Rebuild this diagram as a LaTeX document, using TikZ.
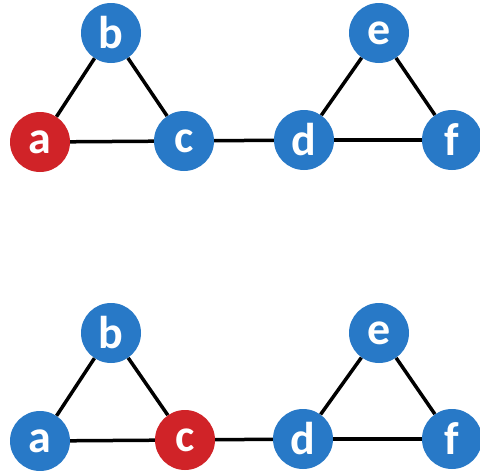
\documentclass[tikz,border=0pt]{standalone}
\usepackage{fontspec}
\setmainfont{Carlito}
\definecolor{nodeblue}{RGB}{40,121,199}
\definecolor{nodered}{RGB}{208,35,40}
\tikzset{
  vert/.style={circle, minimum size=60pt, inner sep=0pt, fill=nodeblue,
    text=white, font=\fontsize{46}{46}\selectfont\bfseries},
  hot/.style={vert, fill=nodered},
  edge/.style={line width=3.5pt, black}
}
\begin{document}
\begin{tikzpicture}[x=1pt, y=-1pt]
\useasboundingbox (0,0) rectangle (480,471);
% upper graph
\node[vert] (b1) at (111,33) {b};
\node[hot]  (a1) at (40,142) {a};
\node[vert] (c1) at (184,141) {c};
\node[vert] (d1) at (304,140) {d};
\node[vert] (e1) at (379,33) {e};
\node[vert] (f1) at (452,140) {f};
% lower graph
\node[vert] (b2) at (111,333) {b};
\node[vert] (a2) at (40,441) {a};
\node[hot]  (c2) at (185,440) {c};
\node[vert] (d2) at (303,439) {d};
\node[vert] (e2) at (379,333) {e};
\node[vert] (f2) at (452,439) {f};
% edges of both graphs
\foreach \i in {1,2}{
  \draw[edge] (a\i) -- (b\i);
  \draw[edge] (b\i) -- (c\i);
  \draw[edge] (a\i) -- (c\i);
  \draw[edge] (c\i) -- (d\i);
  \draw[edge] (d\i) -- (e\i);
  \draw[edge] (e\i) -- (f\i);
  \draw[edge] (d\i) -- (f\i);
}
\end{tikzpicture}
\end{document}
